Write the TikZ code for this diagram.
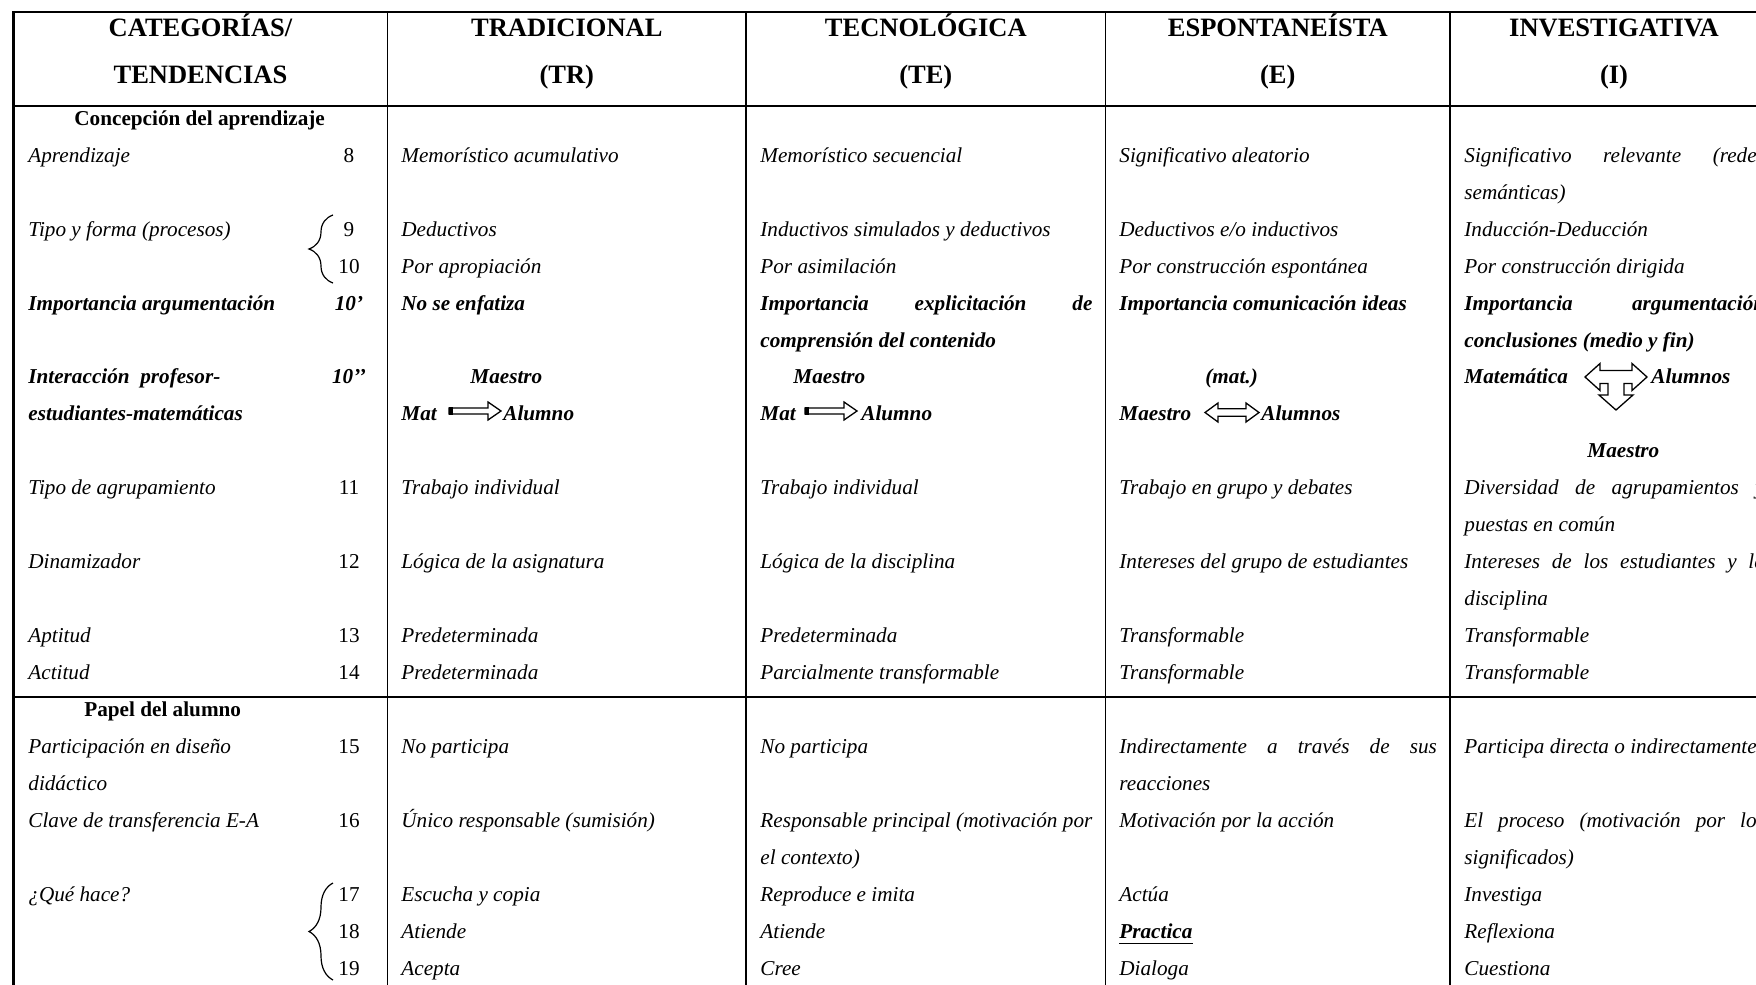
\documentclass[tikz,border=0pt]{standalone}
\usepackage{fontspec}
\setmainfont{Liberation Serif}
\usetikzlibrary{decorations.pathreplacing}

% baseline of text row #1 (rows are 36.96 units apart)
\newcommand\rowy[1]{162.2+36.96*#1}

\begin{document}
\begin{tikzpicture}[x=0.5pt,y=-0.5pt,
  txt/.style={anchor=base west, inner sep=0, font=\fontsize{10.6}{12}\selectfont\itshape},
  txtb/.style={txt, font=\fontsize{10.6}{12}\selectfont\bfseries\itshape},
  num/.style={anchor=base, inner sep=0, font=\fontsize{10.6}{12}\selectfont},
  numb/.style={num, font=\fontsize{10.6}{12}\selectfont\bfseries\itshape},
  head/.style={anchor=base, inner sep=0, font=\fontsize{13.25}{15}\selectfont\bfseries},
  sect/.style={anchor=base west, inner sep=0, font=\fontsize{10.6}{12}\selectfont\bfseries},
  rule/.style={line width=1.3pt},
  colrule/.style={line width=0.9pt},
  symb/.style={line width=0.65pt, line join=miter},
  brc/.style={decorate, decoration={brace, amplitude=12pt}, line width=0.6pt},
  fatarrow/.pic={
    \draw[symb] (0,-3) -- (39,-3) -- (39,-9) -- (52,0) -- (39,9) -- (39,3) -- (0,3) -- cycle;
    \fill (0,-3.6) rectangle (4,3.6);
  },
  dblarrow/.pic={
    \draw[symb] (0,0) -- (13,-9.5) -- (13,-3.8) -- (41,-3.8) -- (41,-9.5) -- (54,0)
      -- (41,9.5) -- (41,3.8) -- (13,3.8) -- (13,9.5) -- cycle;
  },
  teearrow/.pic={
    \draw[symb] (-31,0) -- (-16,-13.5) -- (-16,-6.5) -- (16,-6.5) -- (16,-13.5) -- (31,0)
      -- (16,13.5) -- (16,6.5) -- (8,6.5) -- (8,18) -- (17,18) -- (0,33) -- (-17,18)
      -- (-8,18) -- (-8,6.5) -- (-16,6.5) -- (-16,13.5) -- cycle;
  }
]
\fill[white] (0,0) rectangle (1756,985);
\useasboundingbox (0,0) rectangle (1756,985);

% table frame
\draw[rule] (1790,12) -- (13.4,12) -- (13.4,1000);
\draw[rule] (13.4,106) -- (1790,106);
\draw[rule] (13.4,697) -- (1790,697);
\draw[colrule] (387.5,12) -- (387.5,1000);
\draw[colrule] (746,12) -- (746,1000);
\draw[colrule] (1105.5,12) -- (1105.5,1000);
\draw[colrule] (1450,12) -- (1450,1000);

% header
\node[head] (h1a) at (200.5,36.8) {CATEGORÍAS/};
\node[head] (h1b) at (200.5,83.8) {TENDENCIAS};
\node[head] (h2a) at (566.8,36.8) {TRADICIONAL};
\node[head] (h2b) at (566.8,83.8) {(TR)};
\node[head] (h3a) at (925.8,36.8) {TECNOLÓGICA};
\node[head] (h3b) at (925.8,83.8) {(TE)};
\node[head] (h4a) at (1277.8,36.8) {ESPONTANEÍSTA};
\node[head] (h4b) at (1277.8,83.8) {(E)};
\node[head] (h5a) at (1614,36.8) {INVESTIGATIVA};
\node[head] (h5b) at (1614,83.8) {(I)};

% categories column
\node[sect] (concep) at (74,125.2) {Concepción del aprendizaje};
\node[txt] (c1r0) at (28,\rowy{0}) {Aprendizaje};
\node[num] (n8) at (349,\rowy{0}) {8};
\node[txt] (c1r2) at (28,\rowy{2}) {Tipo y forma (procesos)};
\node[num] (n9) at (349,\rowy{2}) {9};
\node[num] (n10) at (349,\rowy{3}) {10};
\node[txtb] (c1r4) at (28,\rowy{4}) {Importancia argumentación};
\node[numb] (n10a) at (349,\rowy{4}) {10’};
\node[txtb] (c1r6) at (28,\rowy{6}) {\makebox[96pt][s]{Interacción profesor-}};
\node[numb] (n10b) at (349,\rowy{6}) {10’’};
\node[txtb] (c1r7) at (28,\rowy{7}) {estudiantes-matemáticas};
\node[txt] (c1r9) at (28,\rowy{9}) {Tipo de agrupamiento};
\node[num] (n11) at (349,\rowy{9}) {11};
\node[txt] (c1r11) at (28,\rowy{11}) {Dinamizador};
\node[num] (n12) at (349,\rowy{11}) {12};
\node[txt] (c1r13) at (28,\rowy{13}) {Aptitud};
\node[num] (n13) at (349,\rowy{13}) {13};
\node[txt] (c1r14) at (28,\rowy{14}) {Actitud};
\node[num] (n14) at (349,\rowy{14}) {14};
\node[sect] (papel) at (84,\rowy{15}) {Papel del alumno};
\node[txt] (c1r16) at (28,\rowy{16}) {Participación en diseño};
\node[num] (n15) at (349,\rowy{16}) {15};
\node[txt] (c1r17) at (28,\rowy{17}) {didáctico};
\node[txt] (c1r18) at (28,\rowy{18}) {Clave de transferencia E-A};
\node[num] (n16) at (349,\rowy{18}) {16};
\node[txt] (c1r20) at (28,\rowy{20}) {¿Qué hace?};
\node[num] (n17) at (349,\rowy{20}) {17};
\node[num] (n18) at (349,\rowy{21}) {18};
\node[num] (n19) at (349,\rowy{22}) {19};
\draw[brc] (333,283) -- (333,215);
\draw[brc] (333,980) -- (333,883);

% TRADICIONAL
\node[txt] (tr0) at (401,\rowy{0}) {Memorístico acumulativo};
\node[txt] (tr2) at (401,\rowy{2}) {Deductivos};
\node[txt] (tr3) at (401,\rowy{3}) {Por apropiación};
\node[txtb] (tr4) at (401,\rowy{4}) {No se enfatiza};
\node[txtb] (tr6) at (470,\rowy{6}) {Maestro};
\node[txtb] (tr7a) at (401,\rowy{7}) {Mat};
\node[txtb] (tr7b) at (503,\rowy{7}) {Alumno};
\pic at (449,411) {fatarrow};
\node[txt] (tr9) at (401,\rowy{9}) {Trabajo individual};
\node[txt] (tr11) at (401,\rowy{11}) {Lógica de la asignatura};
\node[txt] (tr13) at (401,\rowy{13}) {Predeterminada};
\node[txt] (tr14) at (401,\rowy{14}) {Predeterminada};
\node[txt] (tr16) at (401,\rowy{16}) {No participa};
\node[txt] (tr18) at (401,\rowy{18}) {Único responsable (sumisión)};
\node[txt] (tr20) at (401,\rowy{20}) {Escucha y copia};
\node[txt] (tr21) at (401,\rowy{21}) {Atiende};
\node[txt] (tr22) at (401,\rowy{22}) {Acepta};

% TECNOLÓGICA
\node[txt] (te0) at (760,\rowy{0}) {Memorístico secuencial};
\node[txt] (te2) at (760,\rowy{2}) {Inductivos simulados y deductivos};
\node[txt] (te3) at (760,\rowy{3}) {Por asimilación};
\node[txtb] (te4) at (760,\rowy{4}) {\makebox[166pt][s]{Importancia explicitación de}};
\node[txtb] (te5) at (760,\rowy{5}) {comprensión del contenido};
\node[txtb] (te6) at (793,\rowy{6}) {Maestro};
\node[txtb] (te7a) at (760,\rowy{7}) {Mat};
\node[txtb] (te7b) at (861,\rowy{7}) {Alumno};
\pic at (805,411) {fatarrow};
\node[txt] (te9) at (760,\rowy{9}) {Trabajo individual};
\node[txt] (te11) at (760,\rowy{11}) {Lógica de la disciplina};
\node[txt] (te13) at (760,\rowy{13}) {Predeterminada};
\node[txt] (te14) at (760,\rowy{14}) {Parcialmente transformable};
\node[txt] (te16) at (760,\rowy{16}) {No participa};
\node[txt] (te18) at (760,\rowy{18}) {\makebox[166pt][s]{Responsable principal (motivación por}};
\node[txt] (te19) at (760,\rowy{19}) {el contexto)};
\node[txt] (te20) at (760,\rowy{20}) {Reproduce e imita};
\node[txt] (te21) at (760,\rowy{21}) {Atiende};
\node[txt] (te22) at (760,\rowy{22}) {Cree};

% ESPONTANEÍSTA
\node[txt] (es0) at (1119,\rowy{0}) {Significativo aleatorio};
\node[txt] (es2) at (1119,\rowy{2}) {Deductivos e/o inductivos};
\node[txt] (es3) at (1119,\rowy{3}) {Por construcción espontánea};
\node[txtb] (es4) at (1119,\rowy{4}) {Importancia comunicación ideas};
\node[txtb] (es6) at (1205,\rowy{6}) {(mat.)};
\node[txtb] (es7a) at (1119,\rowy{7}) {Maestro};
\node[txtb] (es7b) at (1261,\rowy{7}) {Alumnos};
\pic at (1205,412.5) {dblarrow};
\node[txt] (es9) at (1119,\rowy{9}) {Trabajo en grupo y debates};
\node[txt] (es11) at (1119,\rowy{11}) {Intereses del grupo de estudiantes};
\node[txt] (es13) at (1119,\rowy{13}) {Transformable};
\node[txt] (es14) at (1119,\rowy{14}) {Transformable};
\node[txt] (es16) at (1119,\rowy{16}) {\makebox[158.75pt][s]{Indirectamente a través de sus}};
\node[txt] (es17) at (1119,\rowy{17}) {reacciones};
\node[txt] (es18) at (1119,\rowy{18}) {Motivación por la acción};
\node[txt] (es20) at (1119,\rowy{20}) {Actúa};
\node[txtb] (es21) at (1119,\rowy{21}) {Practica};
\draw[line width=0.9pt] ([yshift=-2.6pt]es21.base west) -- ([yshift=-2.6pt]es21.base east);
\node[txt] (es22) at (1119,\rowy{22}) {Dialoga};

% INVESTIGATIVA
\node[txt] (in0) at (1464,\rowy{0}) {\makebox[150.25pt][s]{Significativo relevante (redes}};
\node[txt] (in1) at (1464,\rowy{1}) {semánticas)};
\node[txt] (in2) at (1464,\rowy{2}) {Inducción-Deducción};
\node[txt] (in3) at (1464,\rowy{3}) {Por construcción dirigida};
\node[txtb] (in4) at (1464,\rowy{4}) {\makebox[190pt][s]{Importancia argumentación de}};
\node[txtb] (in5) at (1464,\rowy{5}) {conclusiones (medio y fin)};
\node[txtb] (in6a) at (1464,\rowy{6}) {Matemática};
\node[txtb] (in6b) at (1651,\rowy{6}) {Alumnos};
\pic at (1616,377) {teearrow};
\node[txtb] (in8) at (1587,\rowy{8}) {Maestro};
\node[txt] (in9) at (1464,\rowy{9}) {\makebox[150.25pt][s]{Diversidad de agrupamientos y}};
\node[txt] (in10) at (1464,\rowy{10}) {puestas en común};
\node[txt] (in11) at (1464,\rowy{11}) {\makebox[150.25pt][s]{Intereses de los estudiantes y la}};
\node[txt] (in12) at (1464,\rowy{12}) {disciplina};
\node[txt] (in13) at (1464,\rowy{13}) {Transformable};
\node[txt] (in14) at (1464,\rowy{14}) {Transformable};
\node[txt] (in16) at (1464,\rowy{16}) {Participa directa o indirectamente};
\node[txt] (in18) at (1464,\rowy{18}) {\makebox[150.25pt][s]{El proceso (motivación por los}};
\node[txt] (in19) at (1464,\rowy{19}) {significados)};
\node[txt] (in20) at (1464,\rowy{20}) {Investiga};
\node[txt] (in21) at (1464,\rowy{21}) {Reflexiona};
\node[txt] (in22) at (1464,\rowy{22}) {Cuestiona};
\end{tikzpicture}
\end{document}
